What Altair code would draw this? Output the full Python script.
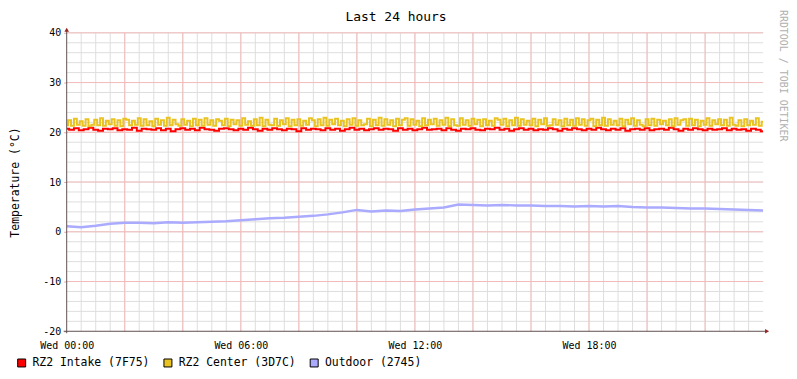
import altair as alt
import pandas as pd

# ---------------- data ----------------
series_names = ["RZ2 Intake (7F75)", "RZ2 Center (3D7C)", "Outdoor (2745)"]
series_colors = ["#FF0000", "#E9C322", "#AAAAFF"]

# RZ2 Intake, roughly every 10 minutes from Wed 00:00 to 24:00
intake = [20.7, 20.5, 20.8, 20.4, 20.6, 20.9, 20.5, 20.3, 20.7, 20.6, 20.8, 20.4, 20.6, 20.5, 20.9, 20.3,
          20.7, 20.6, 20.5, 20.8, 20.4, 20.7, 20.2, 20.6, 20.8, 20.5, 20.7, 20.4, 20.9, 20.6, 20.5, 20.3,
          20.7, 20.8, 20.6, 20.4, 20.7, 20.5, 20.9, 20.6, 20.3, 20.7, 20.5, 20.8, 20.6, 20.4, 20.7, 20.6,
          20.2, 20.8, 20.5, 20.7, 20.6, 20.4, 20.8, 20.5, 20.7, 20.3, 20.6, 20.9, 20.5, 20.7, 20.4, 20.6,
          20.8, 20.5, 20.7, 20.6, 20.3, 20.8, 20.5, 20.7, 20.4, 20.6, 20.9, 20.5, 20.6, 20.7, 20.4, 20.8,
          20.5, 20.3, 20.7, 20.6, 20.8, 20.5, 20.4, 20.7, 20.6, 20.9, 20.5, 20.7, 20.3, 20.6, 20.8, 20.5,
          20.7, 20.4, 20.6, 20.5, 20.8, 20.6, 20.3, 20.7, 20.5, 20.8, 20.6, 20.4, 20.7, 20.5, 20.9, 20.6,
          20.4, 20.7, 20.5, 20.8, 20.3, 20.6, 20.7, 20.5, 20.8, 20.4, 20.6, 20.7, 20.5, 20.9, 20.6, 20.3,
          20.7, 20.5, 20.8, 20.6, 20.4, 20.7, 20.5, 20.6, 20.8, 20.4, 20.7, 20.5, 20.6, 20.3, 20.7, 20.5, 20.2]

# RZ2 Center, roughly every 6 minutes
center = [21.4, 22.4, 21.3, 22.7, 21.5, 22.2, 21.3, 22.6, 21.2, 21.5, 22.5, 21.4, 22.8, 21.3, 22.3, 21.6,
          22.6, 21.3, 22.4, 21.2, 22.7, 22.5, 21.4, 22.3, 21.5, 22.8, 21.3, 22.6, 21.4, 22.2, 21.2, 22.7,
          21.5, 22.4, 21.3, 22.9, 21.4, 22.5, 21.6, 21.3, 22.6, 21.5, 22.3, 21.2, 22.7, 21.4, 22.5, 21.3,
          22.8, 21.5, 22.4, 21.3, 22.6, 22.3, 21.4, 22.7, 21.2, 22.5, 21.6, 22.4, 21.3, 22.8, 21.5, 22.2,
          21.3, 22.6, 21.4, 22.9, 21.2, 22.5, 21.5, 21.4, 22.7, 21.3, 22.4, 21.6, 22.8, 21.2, 22.5, 21.4,
          22.6, 21.3, 22.3, 21.5, 22.8, 22.4, 21.2, 22.6, 21.4, 22.9, 21.3, 22.5, 21.6, 22.7, 21.4, 22.3,
          21.2, 22.6, 21.5, 22.8, 21.3, 22.4, 21.4, 21.6, 22.7, 21.2, 22.5, 21.4, 22.9, 21.3, 22.6, 21.5,
          22.4, 21.2, 22.7, 21.4, 22.5, 22.8, 21.3, 22.6, 21.5, 22.3, 21.2, 22.8, 21.4, 22.5, 21.6, 22.7,
          21.3, 22.4, 21.5, 22.9, 21.2, 22.6, 21.4, 21.3, 22.8, 21.5, 22.4, 21.3, 22.7, 21.6, 22.5, 21.2,
          22.6, 21.4, 22.3, 21.3, 22.8, 22.5, 21.5, 22.7, 21.2, 22.4, 21.4, 22.9, 21.3, 22.6, 21.5, 22.3,
          21.4, 22.7, 21.2, 22.5, 21.6, 22.8, 21.3, 21.4, 22.6, 21.5, 22.4, 21.2, 22.7, 21.4, 22.5, 21.3,
          22.8, 21.5, 22.6, 21.3, 22.4, 22.7, 21.2, 22.5, 21.4, 22.9, 21.3, 22.6, 21.5, 22.3, 21.4, 22.7,
          21.2, 22.5, 21.6, 22.8, 21.3, 22.4, 21.5, 21.2, 22.6, 21.4, 22.7, 21.3, 22.5, 21.6, 22.3, 21.4,
          22.6, 21.2, 22.8, 21.5, 22.4, 22.6, 21.3, 22.7, 21.4, 22.5, 21.2, 22.3, 21.5, 22.8, 21.3, 22.4,
          21.6, 22.6, 21.4, 22.5, 21.3, 22.9, 21.5, 21.3, 22.4, 21.2, 22.6, 21.4, 22.3, 21.5, 22.8, 21.3,
          22.1]

# Outdoor, every 30 minutes
outdoor = [1.1, 0.9, 1.2, 1.6, 1.8, 1.8, 1.7, 1.9, 1.8, 1.9, 2.0, 2.1, 2.3, 2.5, 2.7, 2.8,
           3.0, 3.2, 3.5, 3.9, 4.4, 4.1, 4.3, 4.2, 4.5, 4.7, 4.9, 5.5, 5.4, 5.3, 5.4, 5.3,
           5.3, 5.2, 5.2, 5.1, 5.2, 5.1, 5.2, 5.0, 4.9, 4.9, 4.8, 4.7, 4.7, 4.6, 4.5, 4.4, 4.3]

x_tick_hours = [0, 6, 12, 18]
x_tick_labels = ["Wed 00:00", "Wed 06:00", "Wed 12:00", "Wed 18:00"]
y_ticks = [-20, -10, 0, 10, 20, 30, 40]
minor_x = [h / 2 for h in range(1, 48)]
major_x = [2, 4, 6, 8, 10, 12, 14, 16, 18, 20, 22]
minor_y = list(range(-18, 41, 2))
major_y = [-10, 0, 10, 20, 30, 40]

title_text = "Last 24 hours"
y_title = "Temperature (°C)"
watermark = "RRDTOOL / TOBI OETIKER"

MONO = "DejaVu Sans Mono"

# ---------------- tables ----------------
def series_frame(values, name):
    n = len(values)
    return pd.DataFrame({"hours": [24 * i / (n - 1) for i in range(n)],
                         "value": values, "series": name})

df = pd.concat([series_frame(intake, series_names[0]),
                series_frame(center, series_names[1]),
                series_frame(outdoor, series_names[2])], ignore_index=True)

xs = alt.Scale(domain=[0, 24], nice=False, zero=False)
ys = alt.Scale(domain=[-20, 40], nice=False, zero=False)
cscale = alt.Scale(domain=series_names, range=series_colors)

label_expr = "''"
for h, lab in reversed(list(zip(x_tick_hours, x_tick_labels))):
    label_expr = f"datum.value == {h} ? '{lab}' : ({label_expr})"

x_axis = alt.Axis(values=x_tick_hours, labelExpr=label_expr, title=None, grid=False,
                  domain=False, ticks=False, labelFont=MONO, labelFontSize=10,
                  labelColor="black", labelPadding=9, labelFlush=False, labelOverlap=False)
y_axis = alt.Axis(values=y_ticks, labelExpr="'' + datum.value", title=y_title, grid=False,
                  domain=False, ticks=True,
                  tickSize=3, tickColor="#e8a0a0", labelFont=MONO, labelFontSize=10,
                  labelColor="black", labelPadding=3, labelOverlap=False, labelFlush=False,
                  titleFont=MONO, titleFontSize=11.5, titleFontWeight="normal",
                  titleColor="black", titleAngle=-90, titleX=-51, titleY=150,
                  titleAlign="center", titleBaseline="middle")

X = lambda f: alt.X(f, scale=xs, axis=x_axis)
Y = lambda f: alt.Y(f, scale=ys, axis=y_axis)

# ---------------- grid ----------------
minor_v = alt.Chart(pd.DataFrame({"h": minor_x})).mark_rule(color="#dedede", strokeWidth=1).encode(
    x=X("h:Q"))
minor_h = alt.Chart(pd.DataFrame({"v": minor_y})).mark_rule(color="#dedede", strokeWidth=1).encode(
    y=Y("v:Q"))
major_v = alt.Chart(pd.DataFrame({"h": major_x})).mark_rule(color="#f3baba", strokeWidth=1).encode(
    x=X("h:Q"))
major_h = alt.Chart(pd.DataFrame({"v": major_y})).mark_rule(color="#f3baba", strokeWidth=1).encode(
    y=Y("v:Q"))

# ---------------- series ----------------
def line_layer(i, width, interp):
    return alt.Chart(df).transform_filter(alt.datum.series == series_names[i]).mark_line(
        strokeWidth=width, clip=True, interpolate=interp, color=series_colors[i]).encode(
        x=X("hours:Q"), y=Y("value:Q"))

l_intake = line_layer(0, 2, "step")
l_center = line_layer(1, 2, "step")
l_outdoor = line_layer(2, 2.5, "linear")

legend_layer = alt.Chart(df).transform_filter("false").mark_square(size=64).encode(
    x=X("hours:Q"), y=Y("value:Q"),
    fill=alt.Fill("series:N", scale=cscale, legend=alt.Legend(
        title=None, orient="none", legendX=-51, legendY=326, direction="horizontal",
        columns=3, symbolType="square", symbolSize=64, symbolStrokeColor="black",
        symbolStrokeWidth=1, symbolOpacity=1, labelFont=MONO, labelFontSize=11.5,
        labelColor="black", labelOffset=5, columnPadding=11, padding=0, labelLimit=300)))

# ---------------- axes lines and arrows ----------------
axis_col = "#5f5050"
arrow_col = "#9b2525"
one = pd.DataFrame({"k": [0]})
y_axis_line = alt.Chart(one).mark_rule(color=axis_col, strokeWidth=1).encode(
    x=alt.value(0), y=alt.value(302), y2=alt.value(-3))
x_axis_line = alt.Chart(one).mark_rule(color=axis_col, strokeWidth=1).encode(
    x=alt.value(-3), x2=alt.value(703), y=alt.value(300))
y_arrow = alt.Chart(one).mark_point(shape="triangle-up", filled=True, color=arrow_col,
                                    size=22, opacity=1).encode(x=alt.value(0), y=alt.value(-3))
x_arrow = alt.Chart(one).mark_point(shape="triangle-right", filled=True, color=arrow_col,
                                    size=22, opacity=1).encode(x=alt.value(704), y=alt.value(300))

# ---------------- texts ----------------
title = alt.Chart(pd.DataFrame({"t": [title_text]})).mark_text(
    font=MONO, fontSize=13, color="black", align="center", baseline="alphabetic").encode(
    text="t:N", x=alt.value(331), y=alt.value(-11.5))
wm = alt.Chart(pd.DataFrame({"t": [watermark]})).mark_text(
    font=MONO, fontSize=10, color="#b0b0b0", align="left", baseline="middle", angle=90).encode(
    text="t:N", x=alt.value(720), y=alt.value(-23))

chart = alt.layer(
    minor_v, minor_h, major_v, major_h,
    l_intake, l_center, l_outdoor, legend_layer,
    y_axis_line, x_axis_line, y_arrow, x_arrow, title, wm
).properties(
    width=700, height=300,
    autosize=alt.AutoSizeParams(type="none"),
    padding={"left": 59, "top": 24, "right": 26, "bottom": 39},
    background="white"
).configure_view(stroke=None)

chart.save("out.html", embed_options={"renderer": "svg", "actions": False})
